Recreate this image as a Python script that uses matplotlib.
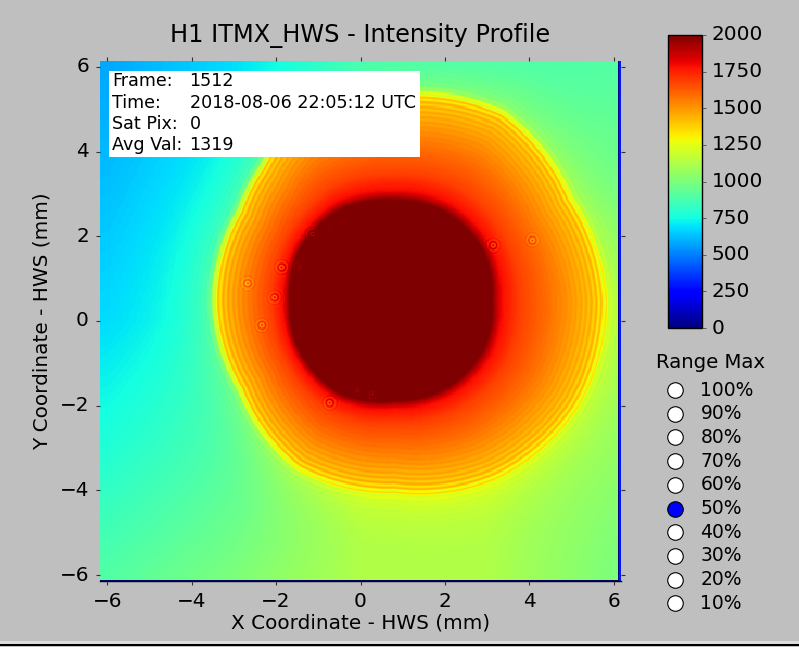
import numpy as np
import matplotlib
matplotlib.use("Agg")
import matplotlib.pyplot as plt
from matplotlib.patches import Rectangle

plt.style.use("classic")
plt.rcParams["font.family"] = "DejaVu Sans"

# coarse background level (columns = bg_x, rows = bg_y)
bg_x = [-6, -3, 0, 3, 6]
bg_y = [6, 3, 0, -3, -6]
bg_vals = [
    [580, 680, 820, 860, 900],
    [630, 730, 900, 950, 960],
    [680, 770, 950, 1000, 1040],
    [780, 880, 1050, 1080, 1040],
    [900, 1000, 1120, 1120, 1000],
]

# beam shape, radii (mm) from the beam centre at each angle
beam_cx, beam_cy = 0.81, 0.49
ring_angles = [0, 30, 60, 90, 105, 120, 135, 150, 165, 180, 210, 240, 270, 300, 330]
core_radius = [2.30, 2.40, 2.40, 2.37, 2.42, 2.50, 2.52, 2.55, 2.52, 2.49, 2.55, 2.55, 2.37, 2.40, 2.40]
outer_radius = [5.03, 4.86, 5.17, 4.90, 4.90, 4.86, 4.50, 4.29, 4.30, 4.31, 4.27, 4.62, 4.55, 4.86, 5.03]

# intensity between core edge (t=0) and beam edge (t=1)
profile_t = [-1.0, 0.0, 0.08, 0.25, 0.5, 0.75, 0.9, 1.0]
profile_v = [2600, 2000, 1800, 1680, 1580, 1470, 1410, 1340]

# dust rings seen on the beam
spot_x = [-1.87, -1.44, -2.04, -2.68, -2.34, -0.73, -0.07, 0.26, -1.14, -0.73, 3.15, 4.08]
spot_y = [1.27, 1.27, 0.56, 0.89, -0.10, -1.94, -1.64, -1.71, 2.05, 2.14, 1.79, 1.91]

info_labels = ["Frame:", "Time:", "Sat Pix:", "Avg Val:"]
info_values = ["1512", "2018-08-06 22:05:12 UTC", "0", "1319"]

range_options = ["100%", "90%", "80%", "70%", "60%", "50%", "40%", "30%", "20%", "10%"]
range_selected = "50%"

cbar_ticks = [0, 250, 500, 750, 1000, 1250, 1500, 1750, 2000]
axis_ticks = [-6, -4, -2, 0, 2, 4, 6]

# ---- build the frame ----
N = 480
ext = [-6.17, 6.17, -6.14, 6.14]
xs = np.linspace(ext[0], ext[1], N)
ys = np.linspace(ext[3], ext[2], N)
X, Y = np.meshgrid(xs, ys)

bg_rows = np.array([np.interp(xs, bg_x, row) for row in bg_vals])
bg = np.empty((N, N))
for j in range(N):
    bg[:, j] = np.interp(ys, bg_y[::-1], bg_rows[::-1, j])

dx = X - beam_cx
dy = Y - beam_cy
d = np.hypot(dx, dy)
th = np.degrees(np.arctan2(dy, dx)) % 360
ang = ring_angles + [360]
rc = np.interp(th, ang, core_radius + [core_radius[0]])
ro = np.interp(th, ang, outer_radius + [outer_radius[0]])
t = (d - rc) / (ro - rc)
inner = np.interp(t, profile_t, profile_v)

depth = ro - d
fringe = 90 * np.cos(2 * np.pi * depth / 0.12) * np.exp(-np.abs(depth) / 0.4)
w = 1 / (1 + np.exp(-depth / 0.05))
halo = 160 * np.exp(-np.clip(-depth, 0, None) / 0.7)
img = w * inner + (1 - w) * (bg + halo) + fringe * np.clip(w + 0.3, 0, 1)

for sx, sy in zip(spot_x, spot_y):
    r = np.hypot(X - sx, Y - sy)
    img += 130 * np.cos(2 * np.pi * r / 0.09) * np.exp(-(r / 0.14) ** 2)

img[-1, :] = 0
img[:, -3] = 0
img[:, -2:] = 300

# ---- figure ----
fig = plt.figure(figsize=(7.99, 6.47), dpi=100, facecolor="#bfbfbf")
ax = fig.add_axes([100 / 799, 1 - 581 / 647, 521 / 799, 520 / 647])
im = ax.imshow(img, cmap="jet", vmin=0, vmax=2000, extent=ext,
               origin="upper", aspect="auto", interpolation="nearest")
ax.set_xlim(ext[0], ext[1])
ax.set_ylim(ext[2], ext[3])
for s in ["top", "left", "right"]:
    ax.spines[s].set_visible(False)
ax.spines["bottom"].set_color("black")
ax.set_xticks(axis_ticks)
ax.set_yticks(axis_ticks)
ax.tick_params(direction="out", length=3, width=0.8, pad=5, labelsize=14.4,
               top=True, right=True, color="#333333")
ax.set_xlabel("X Coordinate - HWS (mm)", fontsize=14.4, labelpad=2)
ax.set_ylabel("Y Coordinate - HWS (mm)", fontsize=14.4, labelpad=6)
ax.set_title("H1 ITMX_HWS - Intensity Profile", fontsize=17.3, pad=14)

cax = fig.add_axes([668 / 799, 1 - 328 / 647, 34 / 799, 293 / 647])
cb = fig.colorbar(im, cax=cax, ticks=cbar_ticks)
cb.outline.set_linewidth(1.0)
cax.tick_params(direction="out", length=3, pad=4, labelsize=14.4, color="#333333")

# overlay in figure pixels for the info box, radio list and window edge
ov = fig.add_axes([0, 0, 1, 1], facecolor="none")
ov.set_xlim(0, 799)
ov.set_ylim(647, 0)
ov.axis("off")

ov.add_patch(Rectangle((109, 71), 311, 86, facecolor="white", edgecolor="none"))
for i, (lab, val) in enumerate(zip(info_labels, info_values)):
    yb = 86.5 + 21.2 * i
    ov.text(112, yb, lab, fontsize=12.6, va="baseline", ha="left")
    ov.text(189.5, yb, val, fontsize=12.6, va="baseline", ha="left")

ov.text(656, 362.5, "Range Max", fontsize=14.2, va="center", ha="left")
for i, opt in enumerate(range_options):
    yc = 390 + 23.7 * i
    fc = "blue" if opt == range_selected else "white"
    ov.scatter([674.7], [yc], s=125, facecolor=fc, edgecolor="black", linewidth=0.8)
    ov.text(700.5, yc, opt, fontsize=13.5, va="center", ha="left")

ov.add_patch(Rectangle((0, 641), 799, 3, facecolor="#dcdcdc", edgecolor="none"))
ov.add_patch(Rectangle((0, 644), 799, 2, facecolor="black", edgecolor="none"))

fig.savefig("out.png", dpi=100, facecolor=fig.get_facecolor())
